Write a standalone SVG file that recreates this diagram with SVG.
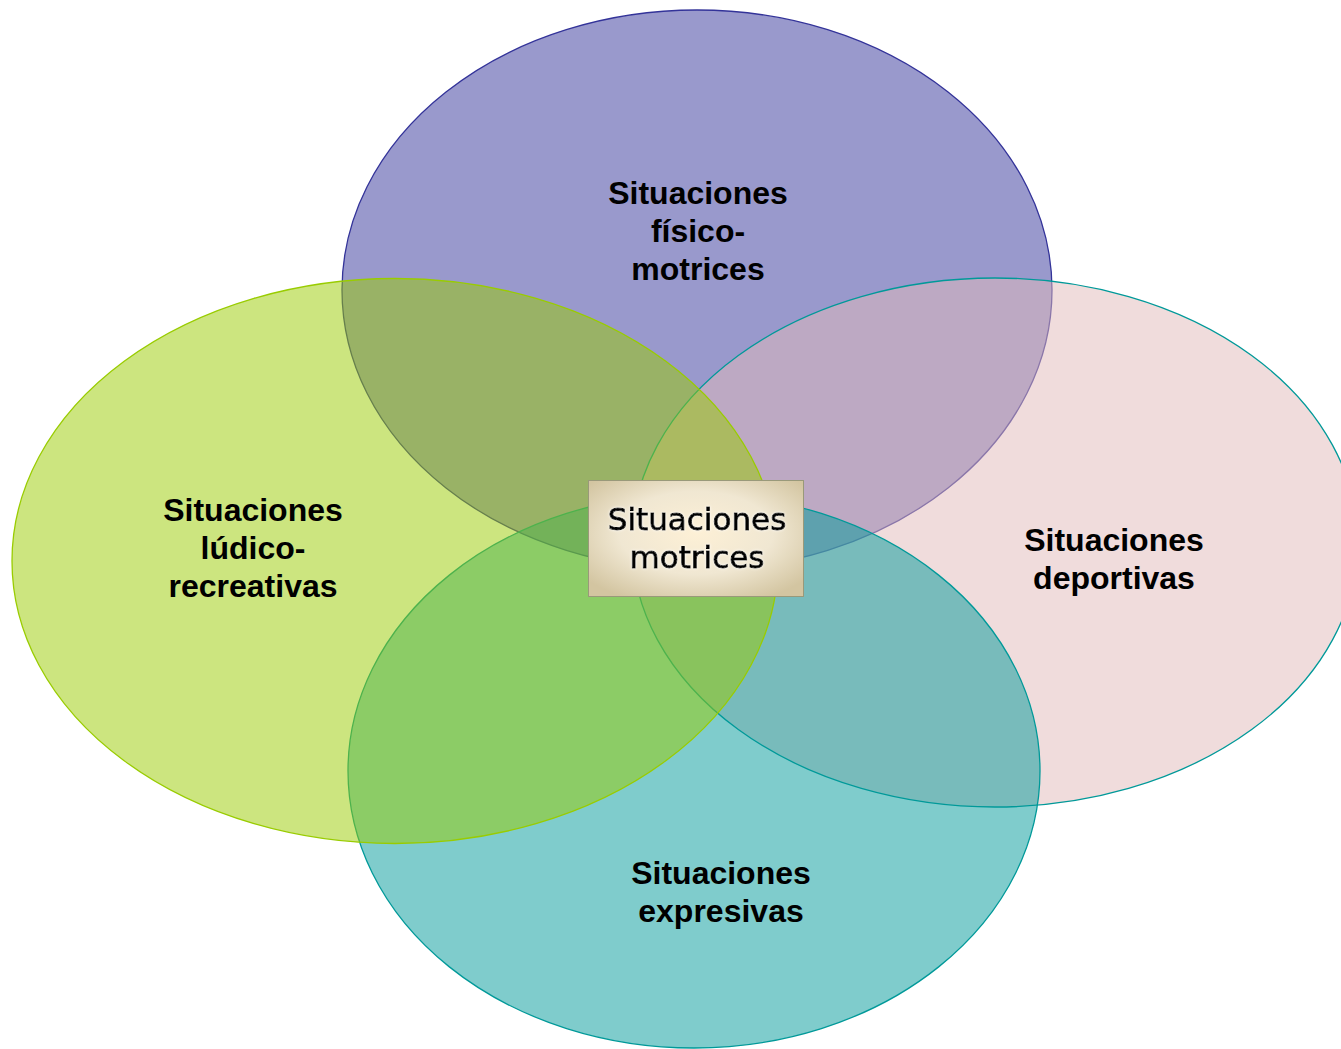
<svg xmlns="http://www.w3.org/2000/svg" width="1341" height="1049" viewBox="0 0 1341 1049">
  <style>
    .lbl { font-family: "Liberation Sans", Arial, sans-serif; font-weight: bold; font-size: 32px; fill: #000; text-anchor: middle; }
    .ctr { font-family: "DejaVu Sans", Verdana, sans-serif; font-size: 31px; fill: #000; stroke: #000; stroke-width: 0.9; text-anchor: middle; }
    .ell { fill-opacity: 0.5; stroke-width: 1.3; }
  </style>
  <defs>
    <radialGradient id="boxGrad" cx="50%" cy="45%" r="65%">
      <stop offset="0" stop-color="#fdf0d6"/>
      <stop offset="0.55" stop-color="#f0e7d2"/>
      <stop offset="1" stop-color="#d3c5a1"/>
    </radialGradient>
    <filter id="glow" x="-10%" y="-30%" width="120%" height="160%">
      <feGaussianBlur in="SourceAlpha" stdDeviation="1.5" result="b"/>
      <feFlood flood-color="#ffffff" flood-opacity="0.9"/>
      <feComposite in2="b" operator="in" result="w"/>
      <feMerge>
        <feMergeNode in="w"/>
        <feMergeNode in="SourceGraphic"/>
      </feMerge>
    </filter>
  </defs>
  <rect width="1341" height="1049" fill="#ffffff"/>

  <g id="node-fisico">
    <ellipse class="ell" cx="697" cy="290" rx="355" ry="280" fill="#333399" stroke="#333399"/>
  </g>
  <g id="node-deportivas">
    <ellipse class="ell" cx="995" cy="542.5" rx="363" ry="264.5" fill="#e1b9b9" stroke="#009999"/>
  </g>
  <g id="node-expresivas">
    <ellipse class="ell" cx="694" cy="771" rx="346" ry="277" fill="#009999" stroke="#009999"/>
  </g>
  <g id="node-ludico">
    <ellipse class="ell" cx="395" cy="561" rx="383" ry="282.5" fill="#99cc00" stroke="#99cc00"/>
  </g>

  <g id="labels">
    <text class="lbl" x="698" y="204">Situaciones</text>
    <text class="lbl" x="698" y="242">físico-</text>
    <text class="lbl" x="698" y="280">motrices</text>

    <text class="lbl" x="253" y="521">Situaciones</text>
    <text class="lbl" x="253" y="559">lúdico-</text>
    <text class="lbl" x="253" y="597">recreativas</text>

    <text class="lbl" x="1114" y="551">Situaciones</text>
    <text class="lbl" x="1114" y="589">deportivas</text>

    <text class="lbl" x="721" y="884">Situaciones</text>
    <text class="lbl" x="721" y="922">expresivas</text>
  </g>

  <g id="node-motrices">
    <rect x="588.5" y="480.5" width="215" height="116" fill="url(#boxGrad)" stroke="#99997a" stroke-width="1"/>
    <g filter="url(#glow)">
      <text class="ctr" x="697" y="530">Situaciones</text>
      <text class="ctr" x="697" y="568">motrices</text>
    </g>
  </g>

  <g id="connectors"/>
</svg>
